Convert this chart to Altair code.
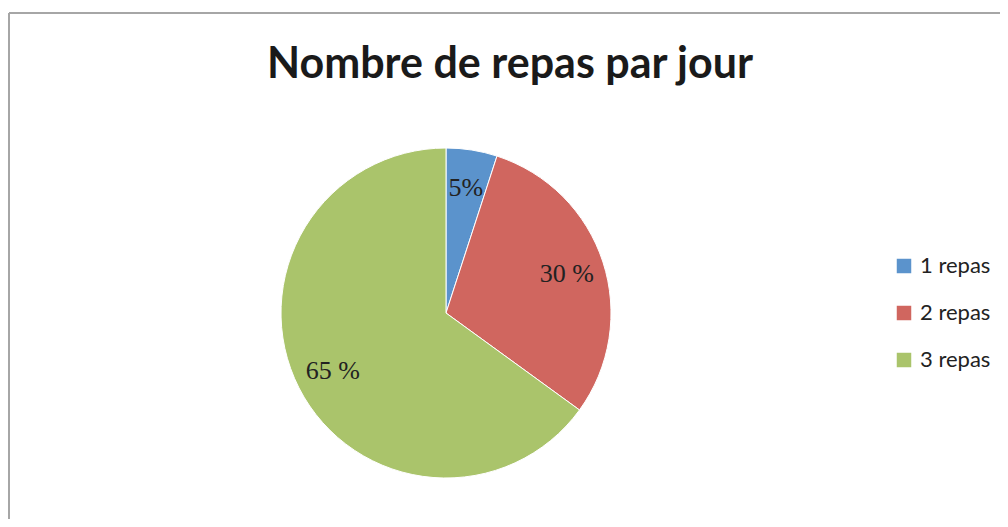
import altair as alt
import pandas as pd

categories = ["1 repas", "2 repas", "3 repas"]
values = [5, 30, 65]
labels = ["5%", "30 %", "65 %"]
colors = ["#5b93cc", "#d0665f", "#aac46b"]
title_text = ["Nombre de repas par jour"]

df = pd.DataFrame({
    "cat": categories,
    "val": values,
    "label": labels,
    "ord": list(range(len(categories))),
})

CX, CY = 438, 305

base = alt.Chart(df).encode(
    theta=alt.Theta("val:Q", stack=True),
    order=alt.Order("ord:Q"),
)

pie = base.mark_arc(outerRadius=165, stroke="white", strokeWidth=1).encode(
    x=alt.value(CX),
    y=alt.value(CY),
    color=alt.Color(
        "cat:N",
        scale=alt.Scale(domain=categories, range=colors),
        legend=alt.Legend(
            title=None,
            orient="none",
            legendX=885,
            legendY=247,
            symbolType="square",
            symbolSize=210,
            symbolStrokeWidth=0,
            labelFont="Lato",
            labelFontSize=22,
            labelColor="#222222",
            labelOffset=5,
            rowPadding=25,
            padding=0,
        ),
    ),
)

text = base.mark_text(
    radius=127, font="Liberation Serif", fontSize=26, color="#222222"
).encode(
    x=alt.value(CX),
    y=alt.value(CY),
    text="label:N",
)

title = alt.Chart(pd.DataFrame({"t": title_text})).mark_text(
    font="Lato", fontSize=43, fontWeight="bold", color="#1a1a1a",
    baseline="alphabetic", align="center",
).encode(text="t:N", x=alt.value(502), y=alt.value(70))

frame_df = pd.DataFrame({"a": [0]})
top_line = alt.Chart(frame_df).mark_rule(color="#a6a6a6", strokeWidth=2).encode(
    x=alt.value(1), x2=alt.value(992), y=alt.value(5)
)
left_line = alt.Chart(frame_df).mark_rule(color="#a6a6a6", strokeWidth=2).encode(
    x=alt.value(1), y=alt.value(5), y2=alt.value(511)
)

chart = alt.layer(top_line, left_line, pie, text, title).properties(
    width=992,
    height=511,
    autosize=alt.AutoSizeParams(type="none"),
    padding=0,
    background="white",
).configure_view(strokeWidth=0)

chart.save("out.html", embed_options={"renderer": "svg", "actions": False})
